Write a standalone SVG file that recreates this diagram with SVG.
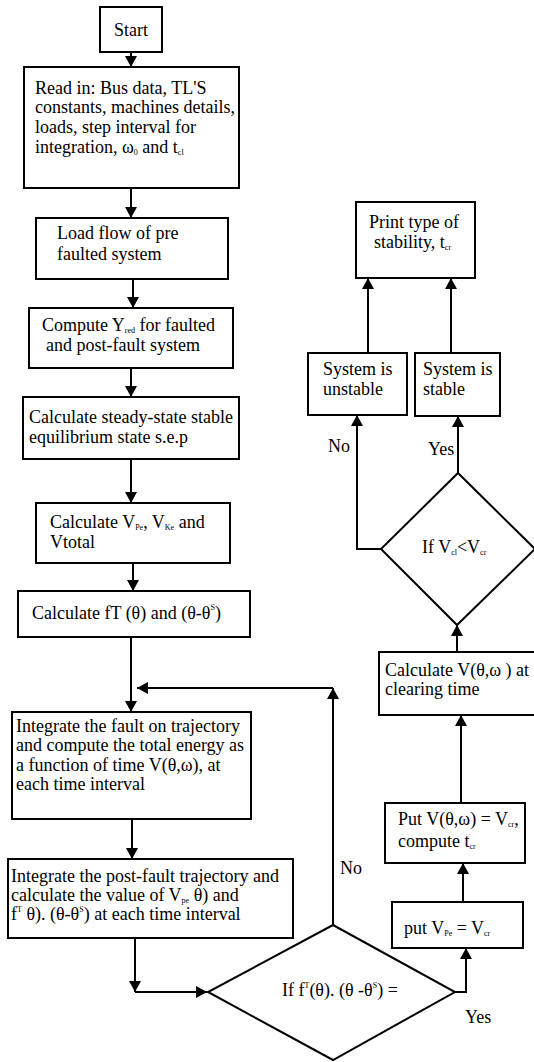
<svg xmlns="http://www.w3.org/2000/svg" width="534" height="1062" viewBox="0 0 534 1062">
<style>
  .box{fill:#fff;stroke:#000;stroke-width:2}
  .t{font-family:"Liberation Serif","Times New Roman",serif;font-size:18px;fill:#000}
  .s{font-size:8px}
  .c{fill:none;stroke:#000;stroke-width:2}
</style>
<defs>
  <marker id="ah" markerUnits="userSpaceOnUse" markerWidth="12" markerHeight="12" refX="11" refY="6" orient="auto" viewBox="0 0 12 12">
    <path d="M0,0 L11,6 L0,12 z" fill="#000"/>
  </marker>
</defs>
<rect width="534" height="1062" fill="#fff"/>

<g id="connectors">
  <path class="c" d="M131,52 V67" marker-end="url(#ah)"/>
  <path class="c" d="M131,188 V218" marker-end="url(#ah)"/>
  <path class="c" d="M133,279 V308" marker-end="url(#ah)"/>
  <path class="c" d="M131,368 V397" marker-end="url(#ah)"/>
  <path class="c" d="M131,459 V503" marker-end="url(#ah)"/>
  <path class="c" d="M133,563 V591" marker-end="url(#ah)"/>
  <path class="c" d="M131,637 V712" marker-end="url(#ah)"/>
  <path class="c" d="M333,925 V688" marker-end="url(#ah)"/>
  <path class="c" d="M333,688 H137" marker-end="url(#ah)"/>
  <path class="c" d="M132,819 V859" marker-end="url(#ah)"/>
  <path class="c" d="M135,938 V992" marker-end="url(#ah)"/>
  <path class="c" d="M135,992 H207" marker-end="url(#ah)"/>
  <path class="c" d="M455,992 H466 V948" marker-end="url(#ah)"/>
  <path class="c" d="M463,902 V863" marker-end="url(#ah)"/>
  <path class="c" d="M461,803 V715" marker-end="url(#ah)"/>
  <path class="c" d="M457,652 V625" marker-end="url(#ah)"/>
  <path class="c" d="M381,549 H357 V415" marker-end="url(#ah)"/>
  <path class="c" d="M458,473 V416" marker-end="url(#ah)"/>
  <path class="c" d="M368,353 V278" marker-end="url(#ah)"/>
  <path class="c" d="M451,353 V278" marker-end="url(#ah)"/>
  <text class="t" x="340" y="874">No</text>
  <text class="t" x="465" y="1023">Yes</text>
  <text class="t" x="328" y="452">No</text>
  <text class="t" x="428" y="455">Yes</text>
</g>

<g id="start">
  <rect class="box" x="100" y="7" width="62" height="45"/>
  <text class="t" x="114" y="36">Start</text>
</g>

<g id="read">
  <rect class="box" x="24" y="67" width="215" height="121"/>
  <text class="t" x="35" y="94">Read in: Bus data, TL'S</text>
  <text class="t" x="35" y="113">constants, machines details,</text>
  <text class="t" x="35" y="133">loads, step interval for</text>
  <text class="t" x="35" y="153">integration, ω<tspan class="s" dy="2">0</tspan><tspan dy="-2"> and t</tspan><tspan class="s" dy="2">cl</tspan></text>
</g>

<g id="loadflow">
  <rect class="box" x="36" y="218" width="192" height="61"/>
  <text class="t" x="57" y="239">Load flow of pre</text>
  <text class="t" x="57" y="260">faulted system</text>
</g>

<g id="yred">
  <rect class="box" x="29" y="308" width="204" height="60"/>
  <text class="t" x="42" y="331">Compute Y<tspan class="s" dy="2">red</tspan><tspan dy="-2"> for faulted</tspan></text>
  <text class="t" x="46" y="351">and post-fault system</text>
</g>

<g id="sep">
  <rect class="box" x="23" y="397" width="216" height="62"/>
  <text class="t" x="29" y="423">Calculate steady-state stable</text>
  <text class="t" x="29" y="443">equilibrium state s.e.p</text>
</g>

<g id="vpe">
  <rect class="box" x="36" y="503" width="194" height="60"/>
  <text class="t" x="50" y="528">Calculate V<tspan class="s" dy="2">Pe</tspan><tspan dy="-2">, V</tspan><tspan class="s" dy="2">Ke</tspan><tspan dy="-2"> and</tspan></text>
  <text class="t" x="50" y="548">Vtotal</text>
</g>

<g id="ft">
  <rect class="box" x="18" y="591" width="232" height="46"/>
  <text class="t" x="32" y="619">Calculate fT (θ) and (θ-θ<tspan class="s" dy="-9">S</tspan><tspan dy="9">)</tspan></text>
</g>

<g id="faulton">
  <rect class="box" x="12" y="712" width="239" height="107"/>
  <text class="t" x="16" y="732">Integrate the fault on trajectory</text>
  <text class="t" x="16" y="751">and compute the total energy as</text>
  <text class="t" x="16" y="771">a function of time V(θ,ω), at</text>
  <text class="t" x="16" y="790">each time interval</text>
</g>

<g id="postfault">
  <rect class="box" x="8" y="859" width="285" height="79"/>
  <text class="t" x="11" y="882">Integrate the post-fault trajectory and</text>
  <text class="t" x="11" y="901">calculate the value of V<tspan class="s" dy="2">pe</tspan><tspan dy="-2"> θ) and</tspan></text>
  <text class="t" x="11" y="920">f<tspan class="s" dy="-8">T</tspan><tspan dy="8"> θ). (θ-θ</tspan><tspan class="s" dy="-8">S</tspan><tspan dy="8">) at each time interval</tspan></text>
</g>

<g id="decision1">
  <polygon class="box" points="333,925 455,992 333,1060 208,992"/>
  <text class="t" x="282" y="996">If f<tspan class="s" dy="-8">T</tspan><tspan dy="8">(θ). (θ -θ</tspan><tspan class="s" dy="-8">S</tspan><tspan dy="8">) =</tspan></text>
</g>

<g id="putvpe">
  <rect class="box" x="392" y="902" width="131" height="46"/>
  <text class="t" x="404" y="934">put V<tspan class="s" dy="2">Pe</tspan><tspan dy="-2"> = V</tspan><tspan class="s" dy="2">cr</tspan></text>
</g>

<g id="putv">
  <rect class="box" x="385" y="803" width="140" height="60"/>
  <text class="t" x="398" y="825">Put V(θ,ω) = V<tspan class="s" dy="2">cr</tspan><tspan dy="-2">,</tspan></text>
  <text class="t" x="398" y="847">compute t<tspan class="s" dy="2">cr</tspan></text>
</g>

<g id="calcv">
  <rect class="box" x="379" y="652" width="156" height="63"/>
  <text class="t" x="385" y="676">Calculate V(θ,ω ) at</text>
  <text class="t" x="385" y="695">clearing time</text>
</g>

<g id="decision2">
  <polygon class="box" points="458,473 535,549 457,625 381,549"/>
  <text class="t" x="422" y="553">If V<tspan class="s" dy="2">cl</tspan><tspan dy="-2">&lt;V</tspan><tspan class="s" dy="2">cr</tspan></text>
</g>

<g id="unstable">
  <rect class="box" x="308" y="353" width="99" height="62"/>
  <text class="t" x="323" y="375">System is</text>
  <text class="t" x="323" y="395">unstable</text>
</g>

<g id="stable">
  <rect class="box" x="415" y="353" width="85" height="63"/>
  <text class="t" x="423" y="375">System is</text>
  <text class="t" x="423" y="395">stable</text>
</g>

<g id="print">
  <rect class="box" x="356" y="202" width="119" height="76"/>
  <text class="t" x="369" y="228">Print type of</text>
  <text class="t" x="374" y="248">stability, t<tspan class="s" dy="2">cr</tspan></text>
</g>
</svg>
